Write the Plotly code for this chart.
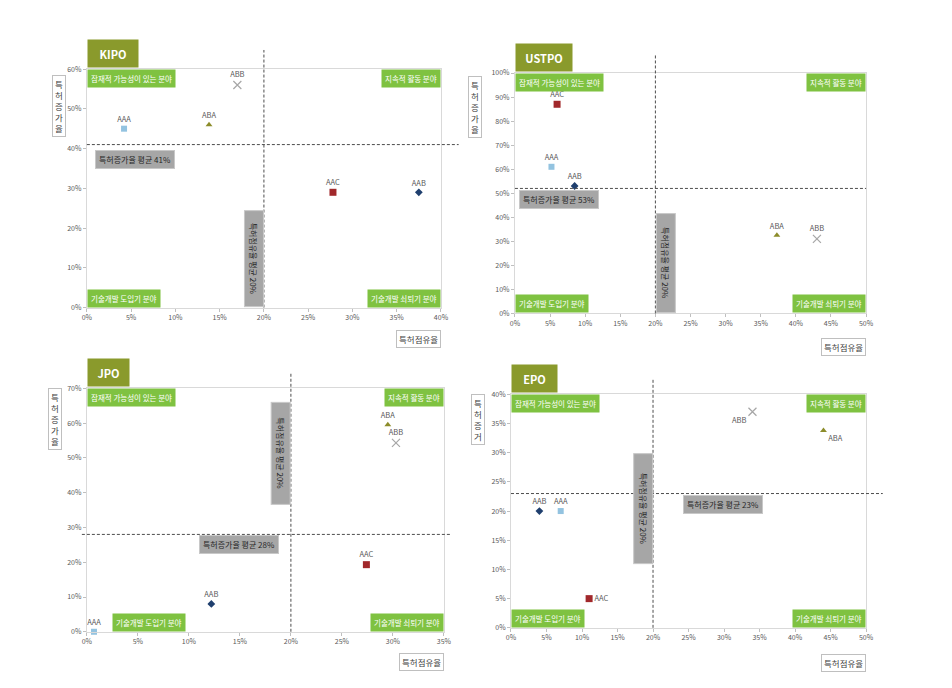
import plotly.graph_objects as go

series = ["AAA", "AAB", "AAC", "ABA", "ABB"]

# patent share (%) / patent growth rate (%) per office, order as in `series`
kipo_share = [4.2, 37.5, 27.8, 13.8, 17.0]
kipo_growth = [45.0, 29.0, 29.0, 46.0, 56.0]
uspto_share = [5.2, 8.5, 6.0, 37.3, 43.0]
uspto_growth = [61.0, 53.0, 87.0, 32.5, 31.0]
jpo_share = [0.7, 12.2, 27.4, 29.5, 30.3]
jpo_growth = [0.0, 8.0, 19.3, 59.5, 54.3]
epo_share = [7.0, 4.0, 11.0, 44.0, 34.0]
epo_growth = [20.0, 20.0, 5.0, 33.8, 37.0]

mean_share = [20, 20, 20, 20]
mean_growth = [41, 52, 28, 23]
mean_growth_labels = ["41%", "53%", "28%", "23%"]

offices = ["KIPO", "USTPO", "JPO", "EPO"]
y_titles = ["특허증가율", "특허증가율", "특허증가율", "특허증거"]
x_title = "특허점유율"
quad_labels = ["잠재적 가능성이 있는 분야", "지속적 활동 분야", "기술개발 도입기 분야", "기술개발 쇠퇴기 분야"]

FONT = "Noto Sans CJK KR"
GREEN = "#7fc241"
OLIVE = "#8a9a2c"
GRAY_BOX = "#a6a6a6"

markers = {
    "AAA": dict(symbol="square", color="#93c3e0", size=6),
    "AAB": dict(symbol="diamond", color="#1f3f6e", size=6),
    "AAC": dict(symbol="square", color="#a1282b", size=7),
    "ABA": dict(symbol="triangle-up", color="#8c8c2a", size=6),
    "ABB": dict(symbol="x-thin-open", color="#a6a6a6", size=8, line=dict(width=1.2, color="#a6a6a6")),
}

panels = [
    dict(share=kipo_share, growth=kipo_growth, xmax=40, ymax=60, ydt=10,
         dom_x=(83, 442), dom_y=(64, 306), title_w=48, ytitle_shift=(-21, -6), xtitle_shift=-22,
         vline_top=1.08, hline=(0, 1.05),
         pos=["top center"] * 5,
         hbox=dict(xref="domain", x=0, xshift=8, yshift=-5, xanchor="left"),
         vbox=dict(xanchor="right", y=0, yanchor="bottom", h=97),
         bl_x=0),
    dict(share=uspto_share, growth=uspto_growth, xmax=50, ymax=100, ydt=10,
         dom_x=(517, 873), dom_y=(68, 312), title_w=54, ytitle_shift=(-33, -3), xtitle_shift=-25,
         vline_top=1.074, hline=(0, 1.0),
         pos=["top center"] * 5,
         hbox=dict(xref="domain", x=0, xshift=4, yshift=-2, xanchor="left"),
         vbox=dict(xanchor="left", y=0, yanchor="bottom", h=100),
         bl_x=0),
    dict(share=jpo_share, growth=jpo_growth, xmax=35, ymax=70, ydt=10,
         dom_x=(83, 445), dom_y=(388, 635), title_w=39, ytitle_shift=(-25, 0), xtitle_shift=-21,
         vline_top=1.066, hline=(-0.014, 1.02),
         pos=["top center"] * 5,
         hbox=dict(xref="data", x=11, xshift=0, yshift=-1, xanchor="left"),
         vbox=dict(xanchor="right", y=66, yanchor="top", h=103),
         bl_x=2.5),
    dict(share=epo_share, growth=epo_growth, xmax=50, ymax=40, ydt=5,
         dom_x=(513, 873), dom_y=(394, 631), title_w=43, ytitle_shift=(-26, 0), xtitle_shift=-26,
         vline_top=1.068, hline=(0, 1.047),
         pos=["top center", "top center", "middle right", "bottom right", "bottom left"],
         hbox=dict(xref="data", x=24.2, xshift=0, yshift=-1, xanchor="left"),
         vbox=dict(xanchor="right", y=30, yanchor="top", h=111),
         bl_x=0),
]

W, H = 952, 688
fig = go.Figure()
shapes, annotations = [], []

for i, (office, p) in enumerate(zip(offices, panels)):
    n = "" if i == 0 else str(i + 1)
    xa, ya = "x" + n, "y" + n
    for k, name in enumerate(series):
        fig.add_trace(go.Scatter(
            x=[p["share"][k]], y=[p["growth"][k]], mode="markers+text",
            text=[name], textposition=p["pos"][k],
            textfont=dict(size=7.5, color="#595959", family=FONT),
            marker=markers[name], xaxis=xa, yaxis=ya, showlegend=False,
            cliponaxis=False,
        ))

    axis_common = dict(showgrid=False, zeroline=False, showline=True, mirror=True,
                       linecolor="#d9d9d9", linewidth=1, ticks="outside", ticklen=3,
                       tickcolor="#bfbfbf", ticksuffix="%",
                       tickfont=dict(size=7, color="#595959", family=FONT))
    fig.update_layout(**{
        ("xaxis" + n): dict(axis_common, range=[0, p["xmax"]], dtick=5, tick0=0,
                            domain=[p["dom_x"][0] / W, p["dom_x"][1] / W], anchor=ya),
        ("yaxis" + n): dict(axis_common, range=[0, p["ymax"]], dtick=p["ydt"], tick0=0,
                            domain=[1 - p["dom_y"][1] / H, 1 - p["dom_y"][0] / H], anchor=xa),
    })

    dash = dict(color="#4d4d4d", width=1, dash="3px,2px")
    shapes.append(dict(type="line", xref=xa, yref=ya + " domain", x0=mean_share[i], x1=mean_share[i],
                       y0=0, y1=p["vline_top"], line=dash))
    shapes.append(dict(type="line", xref=xa + " domain", yref=ya, x0=p["hline"][0], x1=p["hline"][1],
                       y0=mean_growth[i], y1=mean_growth[i], line=dash))

    xd, yd = xa + " domain", ya + " domain"
    # office title box
    annotations.append(dict(xref=xd, yref=yd, x=0, y=1, xanchor="left", yanchor="bottom", yshift=1,
                            text="<b>" + office + "</b>", showarrow=False, bgcolor=OLIVE,
                            width=p["title_w"], height=25,
                            font=dict(size=11, color="white", family=FONT)))
    # quadrant labels
    green = dict(showarrow=False, bgcolor=GREEN, borderpad=3,
                 font=dict(size=7.5, color="white", family=FONT))
    annotations.append(dict(green, xref=xd, yref=yd, x=0, y=1, xanchor="left", yanchor="top", text=quad_labels[0]))
    annotations.append(dict(green, xref=xd, yref=yd, x=1, y=1, xanchor="right", yanchor="top", text=quad_labels[1]))
    annotations.append(dict(green, xref=xa, yref=yd, x=p["bl_x"], y=0, xanchor="left", yanchor="bottom", text=quad_labels[2]))
    annotations.append(dict(green, xref=xd, yref=yd, x=1, y=0, xanchor="right", yanchor="bottom", text=quad_labels[3]))
    # mean boxes
    gray = dict(showarrow=False, bgcolor=GRAY_BOX, bordercolor="#c8c8c8", borderwidth=1, borderpad=3,
                font=dict(size=8, color="#262626", family=FONT))
    hb = p["hbox"]
    annotations.append(dict(gray, xref=xd if hb["xref"] == "domain" else xa, yref=ya,
                            x=hb["x"], xshift=hb["xshift"], y=mean_growth[i], yshift=hb["yshift"],
                            xanchor=hb["xanchor"], yanchor="top",
                            text="특허증가율 평균 " + mean_growth_labels[i]))
    vb = p["vbox"]
    annotations.append(dict(gray, xref=xa, yref=ya, x=mean_share[i], y=vb["y"],
                            xanchor=vb["xanchor"], yanchor=vb["yanchor"], textangle=90,
                            width=vb["h"] - 8, height=12,
                            text="특허점유율 평균 20%"))
    # axis title boxes
    box = dict(showarrow=False, bgcolor="white", bordercolor="#bfbfbf", borderwidth=1, borderpad=2,
               font=dict(size=8.5, color="#404040", family=FONT))
    annotations.append(dict(box, xref=xd, yref=yd, x=0, y=1, xanchor="right", yanchor="top",
                            xshift=p["ytitle_shift"][0], yshift=p["ytitle_shift"][1],
                            text="<br>".join(y_titles[i])))
    annotations.append(dict(box, xref=xd, yref=yd, x=1, y=0, xanchor="right", yanchor="top",
                            yshift=p["xtitle_shift"], text=x_title))

fig.update_layout(
    width=W, height=H, margin=dict(l=0, r=0, t=0, b=0),
    paper_bgcolor="white", plot_bgcolor="white",
    font=dict(family=FONT),
    shapes=shapes, annotations=annotations,
)

fig.write_html("out.html", config={"displayModeBar": False},
               post_script="document.body.style.margin='0';")
